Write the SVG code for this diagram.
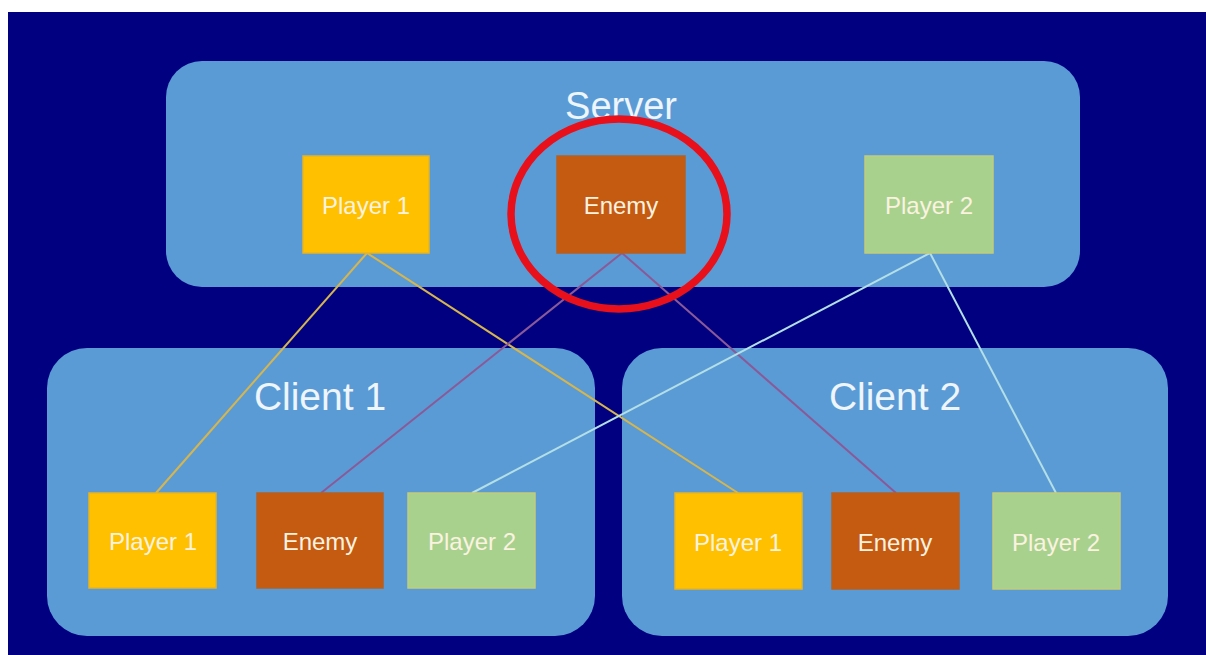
<svg xmlns="http://www.w3.org/2000/svg" width="1206" height="655" viewBox="0 0 1206 655">
  <style>
    .panel { fill: #5b9bd5; }
    .title { font-family: "Liberation Sans", Arial, sans-serif; fill: #eef5fb; text-anchor: middle; }
    .node-label { font-family: "Liberation Sans", Arial, sans-serif; font-size: 24px; fill: #fbf3e0; text-anchor: middle; }
    .p1 { fill: #ffc000; stroke: #e8b420; stroke-width: 1.5; }
    .enemy { fill: #c55a11; stroke: #b8601e; stroke-width: 1.5; }
    .p2 { fill: #a9d18e; stroke: #c2cc78; stroke-width: 1.5; }
    .link { fill: none; stroke-width: 2; }
    .link-p1 { stroke: #d6b64c; }
    .link-enemy { stroke: #8a5a98; }
    .link-p2 { stroke: #b3dfe6; }
  </style>

  <!-- page background -->
  <rect x="0" y="0" width="1206" height="655" fill="#ffffff"/>
  <rect x="8" y="12" width="1198" height="643" fill="#000080"/>

  <!-- panels -->
  <g id="server">
    <rect class="panel" x="166" y="61" width="914" height="226" rx="36"/>
    <text class="title" x="621" y="119" font-size="38">Server</text>
  </g>
  <g id="client1">
    <rect class="panel" x="47" y="348" width="548" height="288" rx="40"/>
    <text class="title" x="320" y="410" font-size="39">Client 1</text>
  </g>
  <g id="client2">
    <rect class="panel" x="622" y="348" width="546" height="288" rx="40"/>
    <text class="title" x="895" y="410" font-size="39">Client 2</text>
  </g>

  <!-- replication links -->
  <g id="connectors">
    <line class="link link-p1" x1="367" y1="253" x2="156" y2="493"/>
    <line class="link link-p1" x1="367" y1="253" x2="738" y2="493"/>
    <line class="link link-enemy" x1="622" y1="253" x2="321" y2="493"/>
    <line class="link link-enemy" x1="622" y1="253" x2="896" y2="493"/>
    <line class="link link-p2" x1="930" y1="253" x2="472" y2="493"/>
    <line class="link link-p2" x1="930" y1="253" x2="1056" y2="493"/>
  </g>

  <!-- server objects -->
  <g id="server-player1">
    <rect class="p1" x="303" y="156" width="126" height="97"/>
    <text class="node-label" x="366" y="214">Player 1</text>
  </g>
  <g id="server-enemy">
    <rect class="enemy" x="557" y="156" width="128" height="97"/>
    <text class="node-label" x="621" y="214">Enemy</text>
  </g>
  <g id="server-player2">
    <rect class="p2" x="865" y="156" width="128" height="97"/>
    <text class="node-label" x="929" y="214">Player 2</text>
  </g>

  <!-- client 1 objects -->
  <g id="client1-player1">
    <rect class="p1" x="89" y="493" width="127" height="95"/>
    <text class="node-label" x="153" y="550">Player 1</text>
  </g>
  <g id="client1-enemy">
    <rect class="enemy" x="257" y="493" width="126" height="95"/>
    <text class="node-label" x="320" y="550">Enemy</text>
  </g>
  <g id="client1-player2">
    <rect class="p2" x="408" y="493" width="127" height="95"/>
    <text class="node-label" x="472" y="550">Player 2</text>
  </g>

  <!-- client 2 objects -->
  <g id="client2-player1">
    <rect class="p1" x="675" y="493" width="127" height="96"/>
    <text class="node-label" x="738" y="551">Player 1</text>
  </g>
  <g id="client2-enemy">
    <rect class="enemy" x="832" y="493" width="127" height="96"/>
    <text class="node-label" x="895" y="551">Enemy</text>
  </g>
  <g id="client2-player2">
    <rect class="p2" x="993" y="493" width="127" height="96"/>
    <text class="node-label" x="1056" y="551">Player 2</text>
  </g>

  <!-- highlight around the authoritative enemy -->
  <ellipse id="enemy-highlight" cx="619" cy="214" rx="108" ry="95" fill="none" stroke="#e8101a" stroke-width="7.5"/>
</svg>
